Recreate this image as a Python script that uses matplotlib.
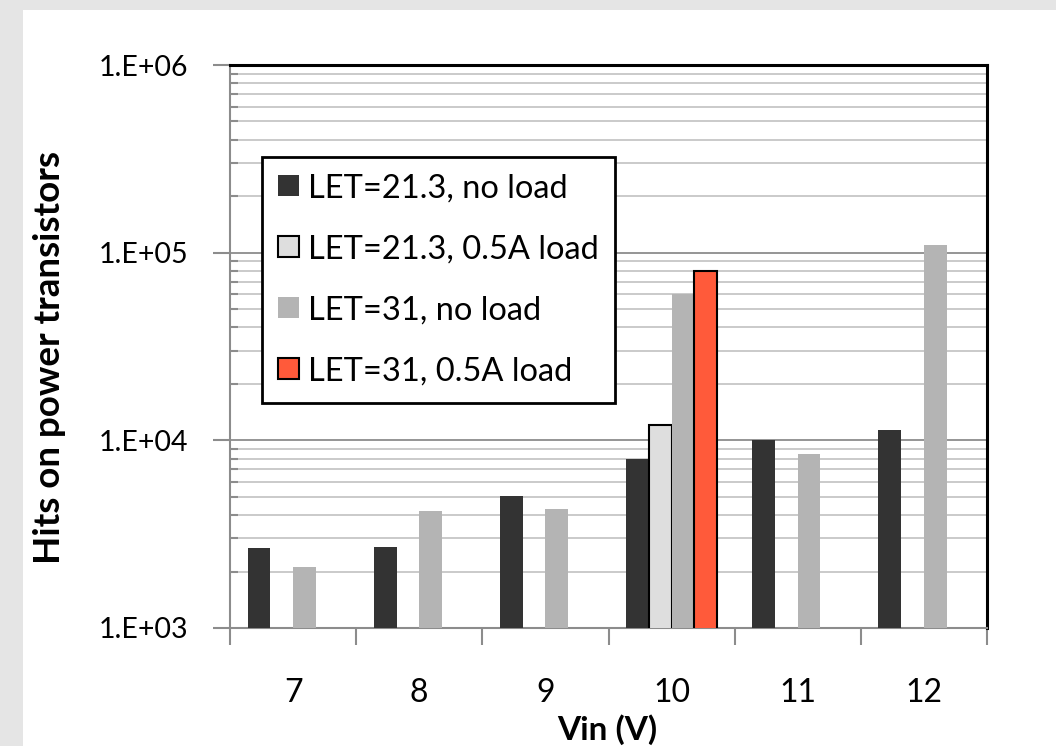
import numpy as np
import matplotlib
matplotlib.use('Agg')
import matplotlib.pyplot as plt
from matplotlib.patches import Rectangle
from matplotlib.ticker import FixedLocator, FuncFormatter, NullFormatter

plt.rcParams['font.family'] = ['Lato', 'DejaVu Sans']

# data
vin = ['7', '8', '9', '10', '11', '12']
series_names = ['LET=21.3, no load', 'LET=21.3, 0.5A load',
                'LET=31, no load', 'LET=31, 0.5A load']
let21_noload = [2.67e3, 2.7e3, 5.05e3, 8.0e3, 1.0e4, 1.13e4]
let21_load = [np.nan, np.nan, np.nan, 1.21e4, np.nan, np.nan]
let31_noload = [2.11e3, 4.2e3, 4.3e3, 6.0e4, 8.5e3, 1.1e5]
let31_load = [np.nan, np.nan, np.nan, 8.0e4, np.nan, np.nan]

colors = ['#333333', '#dedede', '#b4b4b4', '#ff5a3a']
edges = ['none', 'black', 'none', 'black']

W, H = 1056, 746
fig = plt.figure(figsize=(W / 100, H / 100), dpi=100)
fig.patch.set_facecolor('#e5e5e5')
# white chart panel
fig.add_artist(Rectangle((23 / W, 0), 1, 1 - 10 / H, transform=fig.transFigure,
                         facecolor='white', edgecolor='none', zorder=-10))

ax = fig.add_axes([230 / W, 1 - 628 / H, (987 - 230) / W, (628 - 65) / H])
ax.set_facecolor('white')

x = np.arange(len(vin))
w = 0.18
all_series = [let21_noload, let21_load, let31_noload, let31_load]
for i, vals in enumerate(all_series):
    ax.bar(x + (i - 1.5) * w, vals, width=w, color=colors[i],
           edgecolor=edges[i], linewidth=1.5 if edges[i] != 'none' else 0,
           label=series_names[i], zorder=3)

ax.set_yscale('log')
ax.set_ylim(1e3, 1e6)
ax.set_xlim(-0.5, len(vin) - 0.5)

# y ticks
ax.yaxis.set_major_locator(FixedLocator([1e3, 1e4, 1e5, 1e6]))
ax.yaxis.set_major_formatter(FuncFormatter(lambda v, p: '1.E+%02d' % int(round(np.log10(v)))))
minors = [m * 10 ** d for d in range(3, 6) for m in range(2, 10)]
ax.yaxis.set_minor_locator(FixedLocator(minors))
ax.yaxis.set_minor_formatter(NullFormatter())
ax.tick_params(axis='y', which='major', direction='out', length=12, width=1.5,
               color='#8c8c8c', labelsize=20.5, pad=18)
ax.tick_params(axis='y', which='minor', direction='in', length=6, width=1.5,
               color='#8c8c8c')

# x ticks: labels at centres, tick marks at the category boundaries
ax.set_xticks(x)
ax.set_xticklabels(vin)
ax.xaxis.set_minor_locator(FixedLocator(np.arange(-0.5, len(vin), 1.0)))
ax.tick_params(axis='x', which='major', length=0, labelsize=23, pad=36)
ax.tick_params(axis='x', which='minor', direction='out', length=12, width=1.5,
               color='#8c8c8c')

ax.grid(True, which='major', axis='y', color='#8c8c8c', linewidth=1.3, zorder=1)
ax.grid(True, which='minor', axis='y', color='#c6c6c6', linewidth=1.3, zorder=1)
ax.set_axisbelow(True)

for s in ['left', 'bottom']:
    ax.spines[s].set_color('#8c8c8c')
    ax.spines[s].set_linewidth(1.5)
for s in ['top', 'right']:
    ax.spines[s].set_color('black')
    ax.spines[s].set_linewidth(2.2)

leg = ax.legend(loc='upper left', bbox_to_anchor=((262 - 230) / 757, (628 - 157) / 563),
                borderaxespad=0, fontsize=23.5, frameon=True, fancybox=False,
                framealpha=1, edgecolor='black', handlelength=0.62, handleheight=0.62,
                handletextpad=0.3, labelspacing=0.95, borderpad=0.5)
leg.get_frame().set_linewidth(2)

fig.text(50 / W, 1 - 358 / H, 'Hits on power transistors', rotation=90,
         ha='center', va='center', fontsize=26.5, fontweight='bold')
fig.text(607 / W, 1 - 730 / H, 'Vin (V)', ha='center', va='center',
         fontsize=24, fontweight='bold')

fig.savefig('out.png', dpi=100, facecolor=fig.get_facecolor())
